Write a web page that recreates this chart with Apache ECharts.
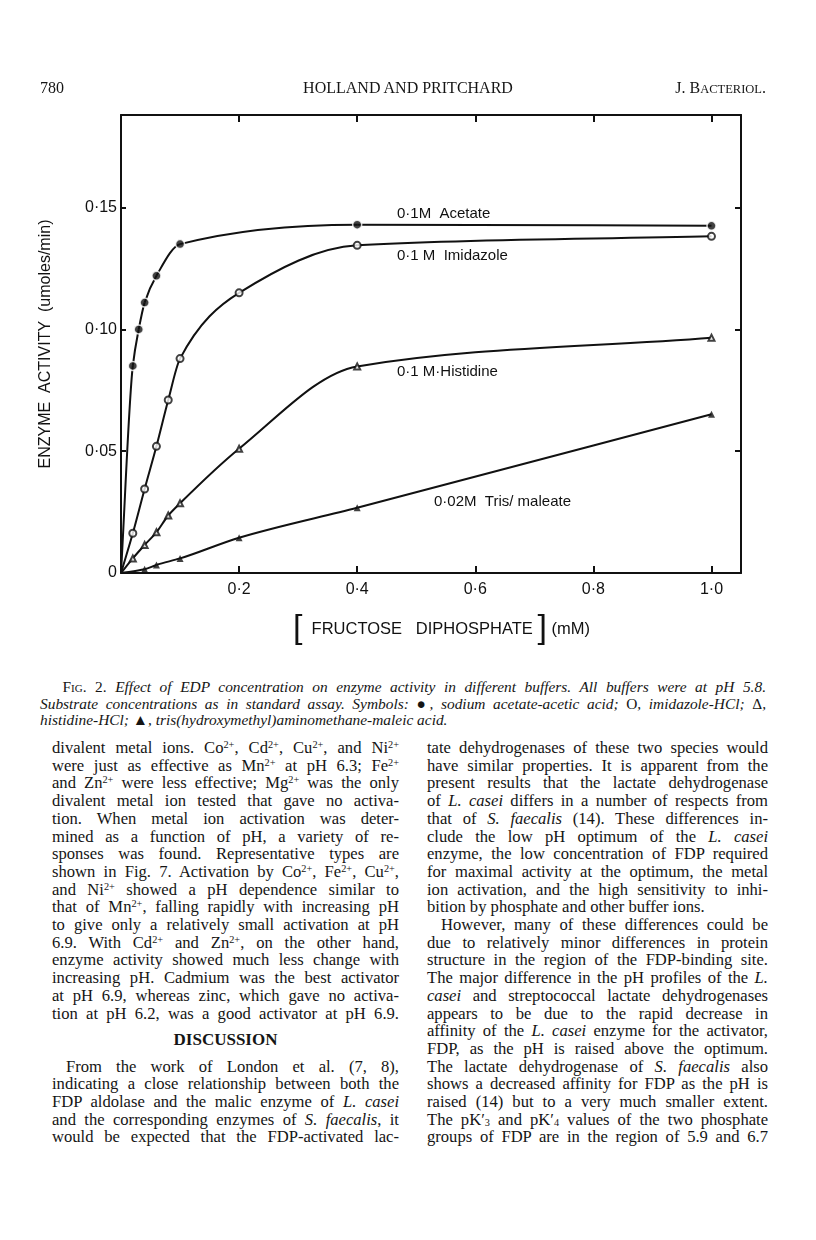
<!DOCTYPE html>
<html>
<head>
<meta charset="utf-8">
<script src="https://cdn.jsdelivr.net/npm/echarts@6/dist/echarts.min.js"></script>
<style>
  body { margin: 0; background: #fff; }
  #page { position: relative; width: 816px; height: 1240px; overflow: hidden; color: #151515; }
  #chart { position: absolute; left: 0; top: 0; width: 816px; height: 660px; }
  .txt { position: absolute; font-family: "Liberation Serif", serif; }
  .ln { white-space: nowrap; text-align: justify; text-align-last: justify; }
  .ln.last { text-align-last: left; }
  .ln.ind { text-indent: 14px; }
  sup { font-size: 0.62em; line-height: 0; vertical-align: 0.45em; }
  sub { font-size: 0.62em; line-height: 0; vertical-align: -0.1em; }
  .sc { font-variant: small-caps; font-style: normal; }
</style>
</head>
<body>
<div id="page">
  <div id="chart"></div>
  <div class="txt" style="left:40px; top:79px; font-size:16px;">780</div>
  <div class="txt" style="left:0; width:816px; top:79px; font-size:16px; text-align:center;">HOLLAND AND PRITCHARD</div>
  <div class="txt" style="right:50px; top:79px; font-size:16px;">J. B<span style="font-size:12.5px">ACTERIOL</span>.</div>
  <div id="caption" class="txt" style="left:40px; width:726px; top:679px; font-size:15.4px; line-height:16.6px; font-style:italic;"></div>
  <div id="colLeft" class="txt" style="left:52px; width:347px; top:739px; font-size:16.6px; line-height:17.7px;"></div>
  <div id="colRight" class="txt" style="left:427px; width:341px; top:739px; font-size:16.6px; line-height:17.7px;"></div>
</div>
<script>
// fructose diphosphate (mM) vs enzyme activity (umoles/min)
const acetateX = [0.02, 0.03, 0.04, 0.06, 0.1, 0.4, 1.0];
const acetateY = [0.085, 0.100, 0.111, 0.122, 0.135, 0.143, 0.1425];
const imidazoleX = [0.02, 0.04, 0.06, 0.08, 0.1, 0.2, 0.4, 1.0];
const imidazoleY = [0.0163, 0.0345, 0.052, 0.071, 0.088, 0.115, 0.1345, 0.1382];
const histidineX = [0.02, 0.04, 0.06, 0.08, 0.1, 0.2, 0.4, 1.0];
const histidineY = [0.006, 0.0115, 0.0167, 0.0236, 0.0286, 0.051, 0.0848, 0.0966];
const trisX = [0.04, 0.06, 0.1, 0.2, 0.4, 1.0];
const trisY = [0.0015, 0.0033, 0.006, 0.0145, 0.0268, 0.0652];

const xTicks = [0.2, 0.4, 0.6, 0.8, 1.0];
const yTicks = [0.05, 0.10, 0.15];
const yLabels = [0, 0.05, 0.10, 0.15];
const seriesNames = ['0·1M  Acetate', '0·1 M  Imidazole', '0·1 M·Histidine', '0·02M  Tris/ maleate'];

const captionLines = [
    '>&nbsp;<span class="sc">Fig. 2.</span> Effect of EDP concentration on enzyme activity in different buffers. All buffers were at pH 5.8.',
    'Substrate concentrations as in standard assay. Symbols: <span style="font-style:normal">●</span>, sodium acetate-acetic acid; <span style="font-style:normal">O</span>, imidazole-HCl; <span style="font-style:normal">Δ</span>,',
    'histidine-HCl; <span style="font-style:normal">▲</span>, tris(hydroxymethyl)aminomethane-maleic acid.'
];
const leftLines = [
    'divalent metal ions. Co<sup>2+</sup>, Cd<sup>2+</sup>, Cu<sup>2+</sup>, and Ni<sup>2+</sup>',
    'were just as effective as Mn<sup>2+</sup> at pH 6.3; Fe<sup>2+</sup>',
    'and Zn<sup>2+</sup> were less effective; Mg<sup>2+</sup> was the only',
    'divalent metal ion tested that gave no activa-',
    'tion. When metal ion activation was deter-',
    'mined as a function of pH, a variety of re-',
    'sponses was found. Representative types are',
    'shown in Fig. 7. Activation by Co<sup>2+</sup>, Fe<sup>2+</sup>, Cu<sup>2+</sup>,',
    'and Ni<sup>2+</sup> showed a pH dependence similar to',
    'that of Mn<sup>2+</sup>, falling rapidly with increasing pH',
    'to give only a relatively small activation at pH',
    '6.9. With Cd<sup>2+</sup> and Zn<sup>2+</sup>, on the other hand,',
    'enzyme activity showed much less change with',
    'increasing pH. Cadmium was the best activator',
    'at pH 6.9, whereas zinc, which gave no activa-',
    'tion at pH 6.2, was a good activator at pH 6.9.',
    '#DISCUSSION',
    '>From the work of London et al. (7, 8),',
    'indicating a close relationship between both the',
    'FDP aldolase and the malic enzyme of <i>L. casei</i>',
    'and the corresponding enzymes of <i>S. faecalis</i>, it',
    'would be expected that the FDP-activated lac-'
];
const rightLines = [
    'tate dehydrogenases of these two species would',
    'have similar properties. It is apparent from the',
    'present results that the lactate dehydrogenase',
    'of <i>L. casei</i> differs in a number of respects from',
    'that of <i>S. faecalis</i> (14). These differences in-',
    'clude the low pH optimum of the <i>L. casei</i>',
    'enzyme, the low concentration of FDP required',
    'for maximal activity at the optimum, the metal',
    'ion activation, and the high sensitivity to inhi-',
    '<bition by phosphate and other buffer ions.',
    '>However, many of these differences could be',
    'due to relatively minor differences in protein',
    'structure in the region of the FDP-binding site.',
    'The major difference in the pH profiles of the <i>L.</i>',
    '<i>casei</i> and streptococcal lactate dehydrogenases',
    'appears to be due to the rapid decrease in',
    'affinity of the <i>L. casei</i> enzyme for the activator,',
    'FDP, as the pH is raised above the optimum.',
    'The lactate dehydrogenase of <i>S. faecalis</i> also',
    'shows a decreased affinity for FDP as the pH is',
    'raised (14) but to a very much smaller extent.',
    'The pK\u2032<sub>3</sub> and pK\u2032<sub>4</sub> values of the two phosphate',
    'groups of FDP are in the region of 5.9 and 6.7'
];

function fillLines(el, lines, lastIdx) {
    el.innerHTML = lines.map((s, i) => {
        if (s[0] === '#') {
            return `<div style="text-align:center;font-weight:bold;font-size:17px;line-height:35.4px;">${s.slice(1)}</div>`;
        }
        let cls = 'ln';
        if (s[0] === '>') { cls += ' ind'; s = s.slice(1); }
        if (s[0] === '<' && s[1] !== 'i' && s[1] !== 's') { cls += ' last'; s = s.slice(1); }
        if (i === lastIdx) cls += ' last';
        return `<div class="${cls}">${s}</div>`;
    }).join('');
}
fillLines(document.getElementById('caption'), captionLines, 2);
fillLines(document.getElementById('colLeft'), leftLines, -1);
fillLines(document.getElementById('colRight'), rightLines, -1);

const dot = (v) => String(v).replace('.', '·');
const pairs = (xs, ys) => xs.map((x, i) => [x, ys[i]]);

const chart = echarts.init(document.getElementById('chart'));
const ink = '#111';

// hand-drawn style curve: monotone cubic through the points (from the origin), in pixel space
function curveSeries(xs, ys) {
    const pts = [[0, 0]].concat(pairs(xs, ys));
    return {
        type: 'custom',
        data: pts,
        encode: { x: 0, y: 1 },
        silent: true,
        z: 1,
        renderItem: function (params, api) {
            if (params.dataIndex !== 0) return;
            const p = pts.map((d) => api.coord(d));
            const n = p.length;
            const h = [], d = [];
            for (let k = 0; k < n - 1; k++) {
                h.push(p[k + 1][0] - p[k][0]);
                d.push((p[k + 1][1] - p[k][1]) / h[k]);
            }
            const m = [d[0]];
            for (let k = 1; k < n - 1; k++) {
                if (d[k - 1] * d[k] <= 0) { m.push(0); continue; }
                const h0 = h[k - 1], h1 = h[k];
                m.push(3 * (h0 + h1) / ((2 * h1 + h0) / d[k - 1] + (h1 + 2 * h0) / d[k]));
            }
            m.push(d[n - 2]);
            const children = [];
            for (let k = 0; k < n - 1; k++) {
                children.push({
                    type: 'bezierCurve',
                    shape: {
                        x1: p[k][0], y1: p[k][1],
                        cpx1: p[k][0] + h[k] / 3, cpy1: p[k][1] + m[k] * h[k] / 3,
                        cpx2: p[k + 1][0] - h[k] / 3, cpy2: p[k + 1][1] - m[k + 1] * h[k] / 3,
                        x2: p[k + 1][0], y2: p[k + 1][1]
                    },
                    style: { stroke: ink, lineWidth: 2, fill: null }
                });
            }
            return { type: 'group', children: children };
        }
    };
}
const markerSeries = (name, xs, ys, symbol, size, itemStyle) => ({
    name: name,
    type: 'scatter',
    data: pairs(xs, ys),
    symbol: symbol,
    symbolSize: size,
    itemStyle: itemStyle,
    z: 3
});

const axisCommon = {
    type: 'value',
    min: 0,
    splitLine: { show: false },
    axisLine: { show: true, onZero: false, lineStyle: { color: ink, width: 2 } }
};

chart.setOption({
    animation: false,
    backgroundColor: 'transparent',
    grid: { left: 121, top: 115, width: 620, height: 458 },
    xAxis: [
        Object.assign({}, axisCommon, {
            max: 1.05,
            position: 'bottom',
            axisTick: { show: true, inside: true, length: 7, customValues: xTicks, lineStyle: { color: ink, width: 2 } },
            axisLabel: {
                customValues: xTicks, margin: 9,
                fontFamily: 'Liberation Sans', fontSize: 16, color: ink,
                formatter: (v) => dot(v.toFixed(1))
            }
        }),
        Object.assign({}, axisCommon, {
            max: 1.05,
            position: 'top',
            axisTick: { show: true, inside: true, length: 7, customValues: xTicks, lineStyle: { color: ink, width: 2 } },
            axisLabel: { show: false }
        })
    ],
    yAxis: [
        Object.assign({}, axisCommon, {
            max: 0.188,
            position: 'left',
            name: 'ENZYME  ACTIVITY  (umoles/min)',
            nameLocation: 'middle',
            nameRotate: 90,
            nameGap: 67,
            nameTextStyle: { fontFamily: 'Liberation Sans', fontSize: 16, color: ink },
            axisTick: { show: true, inside: true, length: 5, customValues: yTicks, lineStyle: { color: ink, width: 2 } },
            axisLabel: {
                customValues: yLabels, margin: 4,
                fontFamily: 'Liberation Sans', fontSize: 16, color: ink,
                formatter: (v) => v === 0 ? '0' : dot(v.toFixed(2))
            }
        }),
        Object.assign({}, axisCommon, {
            max: 0.188,
            position: 'right',
            axisTick: { show: true, inside: true, length: 6, customValues: yTicks, lineStyle: { color: ink, width: 2 } },
            axisLabel: { show: false }
        })
    ],
    series: [
        curveSeries(acetateX, acetateY),
        curveSeries(imidazoleX, imidazoleY),
        curveSeries(histidineX, histidineY),
        curveSeries(trisX, trisY),
        markerSeries(seriesNames[0], acetateX, acetateY, 'circle', 9, { color: ink, borderColor: '#fff', borderWidth: 1.5 }),
        markerSeries(seriesNames[1], imidazoleX, imidazoleY, 'emptyCircle', 7, { color: ink, borderWidth: 1.2 }),
        markerSeries(seriesNames[2], histidineX, histidineY, 'emptyTriangle', 6, { color: ink, borderWidth: 1 }),
        markerSeries(seriesNames[3], trisX, trisY, 'triangle', 7, { color: ink })
    ],
    graphic: [
        { type: 'text', left: 397, top: 206, style: { text: seriesNames[0], font: '15px "Liberation Sans"', fill: ink } },
        { type: 'text', left: 397, top: 248, style: { text: seriesNames[1], font: '15px "Liberation Sans"', fill: ink } },
        { type: 'text', left: 397, top: 364, style: { text: seriesNames[2], font: '15px "Liberation Sans"', fill: ink } },
        { type: 'text', left: 434, top: 494, style: { text: seriesNames[3], font: '15px "Liberation Sans"', fill: ink } },
        {
            type: 'text', left: 293, top: 612,
            style: {
                text: '{b|[}{t|  FRUCTOSE   DIPHOSPHATE }{b|]}{t| (mM)}',
                rich: {
                    b: { fontFamily: 'Liberation Sans', fontSize: 34, fontWeight: 'lighter', fill: ink, lineHeight: 36 },
                    t: { fontFamily: 'Liberation Sans', fontSize: 16.5, fill: ink, lineHeight: 36 }
                }
            }
        }
    ]
});
</script>
</body>
</html>
